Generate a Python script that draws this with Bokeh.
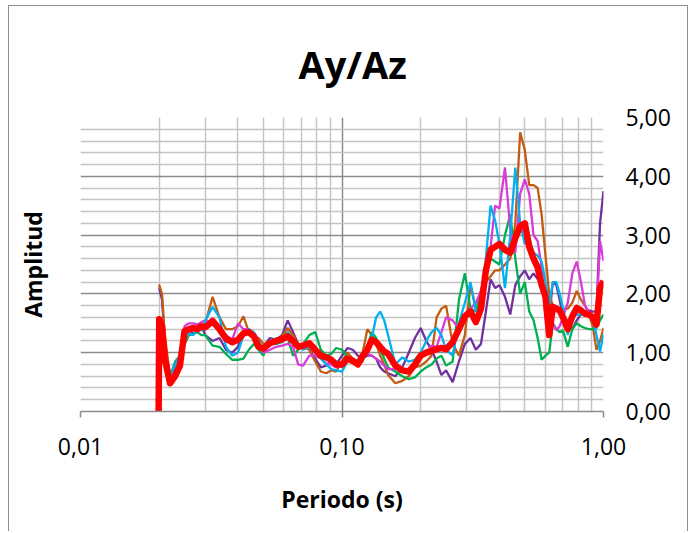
from bokeh.plotting import figure
from bokeh.models import FixedTicker, Range1d, LinearAxis
from bokeh.embed import file_html
from bokeh.resources import INLINE

# ---------------- data ----------------
period = [0.0199, 0.020, 0.0205, 0.021, 0.022, 0.023, 0.024, 0.025, 0.026, 0.027,
          0.028, 0.029, 0.030, 0.032, 0.034, 0.036, 0.038, 0.040, 0.042, 0.044,
          0.046, 0.048, 0.050, 0.053, 0.056, 0.059, 0.062, 0.065, 0.068, 0.071,
          0.075, 0.079, 0.083, 0.087, 0.091, 0.095, 0.100, 0.105, 0.110, 0.115,
          0.120, 0.125, 0.130, 0.135, 0.140, 0.145, 0.150, 0.160, 0.170, 0.180,
          0.190, 0.200, 0.210, 0.220, 0.230, 0.240, 0.250, 0.265, 0.280, 0.295,
          0.310, 0.325, 0.340, 0.355, 0.370, 0.385, 0.400, 0.420, 0.440, 0.460,
          0.480, 0.500, 0.520, 0.540, 0.560, 0.580, 0.600, 0.620, 0.640, 0.660,
          0.680, 0.700, 0.730, 0.760, 0.790, 0.820, 0.850, 0.880, 0.910, 0.940,
          0.970, 1.000]

purple = [2.10, 2.10, 1.90, 1.20, 0.55, 0.70, 0.90, 1.35, 1.38, 1.33,
          1.35, 1.45, 1.30, 1.20, 1.25, 1.05, 1.00, 1.10, 1.35, 1.40,
          1.25, 1.05, 1.10, 1.25, 1.22, 1.30, 1.55, 1.35, 1.15, 1.10,
          1.05, 0.90, 0.75, 0.78, 0.85, 0.80, 0.95, 1.08, 1.05, 0.95,
          0.90, 0.95, 0.95, 0.90, 0.75, 0.68, 0.65, 0.60, 0.75, 1.00,
          1.25, 1.42, 1.20, 1.05, 0.85, 0.62, 0.70, 0.50, 0.85, 1.15,
          1.25, 1.05, 1.15, 1.70, 2.25, 2.10, 2.15, 1.95, 1.65, 2.15,
          2.30, 2.40, 2.25, 2.35, 2.25, 2.20, 2.05, 1.60, 2.20, 2.15,
          1.90, 1.60, 1.55, 1.40, 1.55, 1.65, 1.70, 1.72, 1.70, 1.70,
          3.20, 3.75]

orange = [2.15, 2.15, 2.00, 1.30, 0.60, 0.75, 0.90, 1.35, 1.35, 1.40,
          1.38, 1.45, 1.50, 1.95, 1.60, 1.40, 1.40, 1.45, 1.62, 1.35,
          1.28, 1.25, 1.15, 1.18, 1.20, 1.28, 1.42, 1.30, 1.15, 1.10,
          1.05, 0.85, 0.68, 0.65, 0.70, 0.68, 0.85, 1.00, 0.90, 0.85,
          1.00, 1.40, 1.30, 1.15, 0.95, 0.80, 0.62, 0.48, 0.52, 0.60,
          0.75, 0.78, 0.85, 0.95, 1.60, 1.75, 1.80, 1.15, 0.95, 1.30,
          2.15, 1.75, 1.95, 2.20, 2.30, 2.40, 2.40, 2.50, 2.60, 3.20,
          4.75, 4.45, 3.85, 3.85, 3.80, 3.35, 2.65, 2.00, 1.80, 1.70,
          1.75, 1.75, 1.75, 1.85, 2.05, 1.90, 1.80, 1.65, 1.45, 1.05,
          1.20, 1.42]

green = [1.50, 1.50, 1.30, 0.90, 0.60, 0.85, 0.95, 1.15, 1.30, 1.32,
         1.35, 1.30, 1.30, 1.12, 1.10, 0.98, 0.88, 0.88, 0.90, 1.05,
         1.15, 1.05, 0.95, 1.20, 1.15, 1.18, 1.25, 0.95, 1.05, 1.15,
         1.30, 1.35, 1.05, 0.95, 0.98, 1.08, 1.05, 0.92, 0.85, 0.80,
         0.85, 1.10, 1.35, 1.25, 1.05, 0.90, 0.75, 0.68, 0.60, 0.55,
         0.58, 0.68, 0.75, 0.80, 0.90, 0.95, 0.78, 0.85, 1.90, 2.35,
         1.75, 1.70, 2.05, 2.35, 2.60, 2.55, 2.50, 3.00, 3.35, 2.60,
         2.00, 2.20, 1.70, 1.55, 1.25, 0.88, 0.95, 1.00, 1.50, 1.40,
         1.35, 1.38, 1.10, 1.40, 1.50, 1.45, 1.42, 1.40, 1.40, 1.42,
         1.55, 1.65]

magenta = [1.50, 1.50, 1.40, 1.00, 0.60, 0.80, 0.95, 1.45, 1.50, 1.50,
           1.48, 1.52, 1.55, 1.50, 1.38, 1.30, 1.22, 1.50, 1.40, 1.40,
           1.32, 1.15, 1.00, 1.05, 1.10, 1.12, 1.15, 1.10, 0.80, 0.78,
           0.95, 0.95, 0.90, 0.82, 0.80, 0.75, 0.77, 0.92, 0.88, 0.85,
           0.95, 0.98, 0.95, 0.90, 0.85, 0.78, 0.72, 0.72, 0.72, 0.65,
           0.75, 0.95, 1.00, 1.12, 1.10, 1.35, 1.60, 1.55, 1.40, 1.55,
           1.75, 1.85, 2.05, 2.35, 2.80, 3.50, 3.45, 4.15, 3.10, 2.70,
           3.70, 3.95, 3.70, 3.00, 2.90, 2.45, 1.60, 1.30, 1.50, 1.38,
           1.45, 1.60, 1.85, 2.35, 2.55, 2.20, 1.80, 1.70, 1.60, 1.62,
           2.90, 2.56]

cyan = [1.50, 1.50, 1.40, 1.00, 0.60, 0.80, 0.95, 1.30, 1.32, 1.30,
        1.40, 1.38, 1.55, 1.78, 1.60, 1.10, 0.95, 1.00, 1.30, 1.40,
        1.35, 1.20, 1.05, 1.15, 1.25, 1.20, 1.35, 1.25, 1.15, 1.05,
        1.10, 1.00, 0.90, 0.80, 0.72, 0.70, 0.68, 0.85, 0.90, 0.85,
        0.95, 1.10, 1.25, 1.60, 1.70, 1.55, 1.30, 0.80, 0.92, 0.85,
        0.88, 1.00, 1.20, 1.35, 1.42, 1.30, 1.05, 0.95, 1.50, 1.85,
        2.20, 1.70, 1.75, 2.60, 3.50, 3.25, 2.85, 2.10, 3.00, 4.15,
        3.20, 2.85, 2.95, 2.70, 2.65, 2.55, 2.20, 1.80, 2.20, 2.20,
        2.00, 1.75, 1.30, 1.60, 1.65, 1.65, 1.70, 1.65, 1.60, 1.30,
        1.02, 1.31]

average = [0.00, 1.57, 1.45, 0.90, 0.48, 0.60, 0.78, 1.37, 1.40, 1.42,
           1.40, 1.45, 1.43, 1.54, 1.40, 1.24, 1.18, 1.22, 1.33, 1.35,
           1.28, 1.10, 1.07, 1.16, 1.20, 1.23, 1.28, 1.20, 1.10, 1.12,
           1.16, 1.05, 0.95, 0.92, 0.88, 0.80, 0.80, 0.90, 0.86, 0.80,
           0.95, 1.05, 1.22, 1.18, 1.10, 1.02, 0.98, 0.78, 0.70, 0.68,
           0.80, 0.95, 1.00, 1.03, 1.06, 1.08, 1.06, 1.18, 1.40, 1.62,
           1.70, 1.52, 1.75, 2.40, 2.75, 2.80, 2.85, 2.75, 2.70, 2.95,
           3.15, 3.20, 2.80, 2.60, 2.45, 2.15, 1.95, 1.30, 1.78, 1.75,
           1.72, 1.60, 1.40, 1.62, 1.76, 1.72, 1.66, 1.65, 1.60, 1.48,
           2.10, 2.22]

x_major = [0.01, 0.1, 1.0]
x_minor = [0.02, 0.03, 0.04, 0.05, 0.06, 0.07, 0.08, 0.09,
           0.2, 0.3, 0.4, 0.5, 0.6, 0.7, 0.8, 0.9]
x_labels = {0.01: "0,01", 0.1: "0,10", 1.0: "1,00"}
y_major = [0, 1, 2, 3, 4, 5]
y_minor = [0.2, 0.4, 0.6, 0.8, 1.2, 1.4, 1.6, 1.8, 2.2, 2.4, 2.6, 2.8,
           3.2, 3.4, 3.6, 3.8, 4.2, 4.4, 4.6, 4.8]
y_labels = {0: "0,00", 1: "1,00", 2: "2,00", 3: "3,00", 4: "4,00", 5: "5,00"}

series = [(purple, "#7030A0"), (orange, "#C55A11"), (green, "#00B050"),
          (magenta, "#D83BD8"), (cyan, "#00B0F0")]

FONT = "Open Sans"
GRID_MAJOR = "#8C8C8C"
GRID_MINOR = "#C4C4C4"

p = figure(width=680, height=526, x_axis_type="log", y_axis_location="right",
           x_range=Range1d(0.01, 1.0), y_range=Range1d(0, 5),
           output_backend="svg", toolbar_location=None,
           min_border_left=71, min_border_right=86,
           min_border_top=111, min_border_bottom=121)
p.outline_line_color = None
p.background_fill_color = "white"
p.border_fill_color = "white"
p.styles = {"margin-left": "8px", "margin-top": "5px",
            "border-top": "1px solid #8C8C8C",
            "border-left": "1px solid #8C8C8C",
            "border-right": "1px solid #8C8C8C"}

# title
p.title.text = "Ay/Az"
p.title.align = "left"
p.title.offset = 218
p.title.standoff = 56
p.title.text_line_height = 1.0
p.title.text_font = FONT
p.title.text_font_style = "bold"
p.title.text_font_size = "38px"
p.title.text_color = "black"

# axes
p.xaxis.ticker = FixedTicker(ticks=x_major, minor_ticks=x_minor)
p.yaxis.ticker = FixedTicker(ticks=y_major, minor_ticks=y_minor)
p.xaxis.major_label_overrides = x_labels
p.yaxis.major_label_overrides = y_labels

for ax in (p.xaxis, p.yaxis):
    ax.major_label_text_font = FONT
    ax.major_label_text_font_size = "23px"
    ax.major_label_text_color = "black"
    ax.minor_tick_out = 0
    ax.minor_tick_in = 0
    ax.major_tick_in = 0

p.xaxis.axis_line_color = GRID_MAJOR
p.xaxis.axis_line_width = 1.5
p.xaxis.major_tick_line_color = GRID_MAJOR
p.xaxis.major_tick_line_width = 1.5
p.xaxis.major_tick_out = 6
p.xaxis.major_label_standoff = 20
p.xaxis.axis_label = "Periodo (s)"
p.xaxis.axis_label_text_font = FONT
p.xaxis.axis_label_text_font_style = "bold"
p.xaxis.axis_label_text_font_size = "23px"
p.xaxis.axis_label_text_color = "black"
p.xaxis.axis_label_standoff = 25

p.yaxis.axis_line_color = None
p.yaxis.major_tick_out = 0
p.yaxis.major_tick_line_color = None
p.yaxis.major_label_standoff = 22

left_axis = LinearAxis(ticker=FixedTicker(ticks=[]), axis_label="Amplitud",
                       axis_line_color=None, major_tick_line_color=None,
                       minor_tick_line_color=None,
                       axis_label_text_font=FONT,
                       axis_label_text_font_style="bold",
                       axis_label_text_font_size="23px",
                       axis_label_text_color="black",
                       axis_label_standoff=32)
p.add_layout(left_axis, "left")

# grids
for g in (p.xgrid, p.ygrid):
    g.grid_line_color = GRID_MAJOR
    g.grid_line_width = 1.5
    g.minor_grid_line_color = GRID_MINOR
    g.minor_grid_line_width = 1.5

# series
for vals, col in series:
    p.line(period, vals, line_color=col, line_width=2.3)
p.line(period, average, line_color="#FF0000", line_width=6.5, line_join="round")

open("out.html", "w").write(file_html(p, INLINE))
